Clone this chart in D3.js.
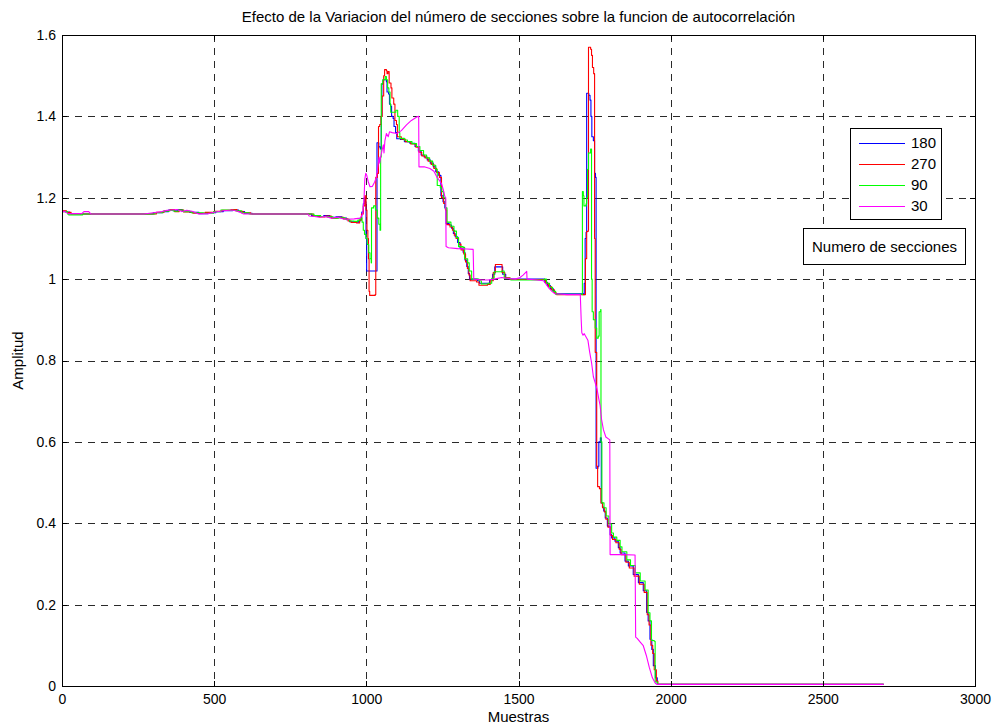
<!DOCTYPE html>
<html>
<head>
<meta charset="utf-8">
<script src="https://cdn.jsdelivr.net/npm/d3@7"></script>
<style>
  html, body { margin: 0; padding: 0; background: #ffffff; }
  svg { display: block; }
  text { font-family: "Liberation Sans", Arial, Helvetica, sans-serif; fill: #000; }
</style>
</head>
<body>
<svg id="chart" width="994" height="726"></svg>
<script>
// Títulos y etiquetas
const titulo = "Efecto de la Variacion del número de secciones sobre la funcion de autocorrelación";
const etiquetaX = "Muestras";
const etiquetaY = "Amplitud";
const tituloLeyenda = "Numero de secciones";

// Marcas de los ejes
const ticksX = [0, 500, 1000, 1500, 2000, 2500, 3000];
const ticksY = [0, 0.2, 0.4, 0.6, 0.8, 1, 1.2, 1.4, 1.6];

// Número de secciones de cada curva (orden de la leyenda)
const secciones = ["180", "270", "90", "30"];
const colores = ["#0000ff", "#ff0000", "#00ff00", "#ff00ff"];

// Autocorrelación con 180 secciones: [muestra, amplitud]
const serie180 = [
  [0,1.167],[12,1.165],[25,1.161],[60,1.160],[270,1.160],[300,1.163],[330,1.166],[350,1.170],[365,1.168],
  [380,1.171],[395,1.167],[420,1.164],[450,1.161],[480,1.163],[505,1.166],[530,1.168],[560,1.170],[580,1.166],
  [600,1.162],[625,1.160],[810,1.160],[820,1.156],[840,1.154],[860,1.156],[880,1.152],[900,1.153],[920,1.150],
  [935,1.146],[945,1.141],[965,1.140],[975,1.143],[980,1.150],[985,1.165],[990,1.185],[993,1.200],[997,1.190],
  [999,1.100],[1001,1.020],[1033,1.020],[1035,1.335],[1041,1.325],[1046,1.320],[1049,1.400],[1051,1.480],
  [1055,1.490],[1066,1.485],[1068,1.460],[1073,1.455],[1076,1.430],[1080,1.425],[1083,1.400],[1088,1.395],
  [1091,1.375],[1096,1.360],[1100,1.345],[1112,1.343],[1125,1.338],[1143,1.334],[1160,1.326],[1171,1.315],
  [1180,1.305],[1190,1.300],[1200,1.293],[1210,1.285],[1220,1.276],[1228,1.264],[1238,1.255],[1245,1.205],
  [1252,1.190],[1258,1.175],[1262,1.137],[1272,1.133],[1280,1.125],[1286,1.112],[1292,1.104],[1300,1.090],
  [1308,1.076],[1318,1.066],[1324,1.047],[1330,1.031],[1335,1.014],[1339,1.000],[1365,0.996],[1372,0.990],
  [1395,0.990],[1405,0.998],[1415,1.012],[1422,1.030],[1442,1.030],[1448,1.012],[1458,1.002],[1470,1.000],
  [1580,1.000],[1586,0.992],[1595,0.984],[1605,0.976],[1615,0.968],[1622,0.964],[1714,0.962],[1716,0.990],
  [1719,1.100],[1722,1.115],[1724,1.457],[1731,1.452],[1735,1.440],[1738,1.400],[1741,1.350],[1746,1.340],
  [1750,1.260],[1753,1.250],[1755,0.535],[1761,0.540],[1764,0.600],[1769,0.610],[1772,0.450],[1776,0.440],
  [1780,0.430],[1785,0.413],[1792,0.393],[1801,0.372],[1806,0.364],[1817,0.356],[1828,0.340],[1834,0.327],
  [1850,0.307],[1861,0.295],[1877,0.274],[1894,0.254],[1910,0.234],[1921,0.181],[1926,0.160],[1932,0.115],
  [1938,0.090],[1943,0.050],[1950,0.020],[1956,0.004],[2700,0.004]
];

// Autocorrelación con 270 secciones
const serie270 = [
  [0,1.168],[15,1.164],[30,1.160],[280,1.160],[310,1.164],[335,1.168],[355,1.171],[370,1.166],[385,1.170],
  [400,1.165],[430,1.162],[470,1.164],[500,1.167],[525,1.169],[555,1.171],[575,1.167],[595,1.163],[620,1.160],
  [812,1.160],[825,1.155],[845,1.153],[865,1.155],[885,1.150],[905,1.152],[925,1.148],[940,1.143],[950,1.139],
  [968,1.138],[978,1.145],[984,1.160],[990,1.180],[995,1.205],[999,1.170],[1002,1.120],[1005,1.100],
  [1007,1.050],[1009,0.970],[1011,0.960],[1029,0.962],[1031,1.250],[1036,1.260],[1040,1.375],[1044,1.380],
  [1048,1.400],[1052,1.450],[1057,1.500],[1060,1.515],[1066,1.512],[1068,1.505],[1071,1.510],[1075,1.482],
  [1081,1.470],[1084,1.445],[1090,1.430],[1094,1.390],[1099,1.380],[1102,1.350],[1115,1.344],[1128,1.338],
  [1146,1.332],[1163,1.324],[1173,1.312],[1182,1.303],[1193,1.298],[1203,1.290],[1213,1.282],[1222,1.272],
  [1231,1.262],[1240,1.250],[1247,1.200],[1254,1.186],[1260,1.170],[1264,1.134],[1275,1.128],[1283,1.120],
  [1289,1.108],[1295,1.100],[1303,1.086],[1311,1.072],[1320,1.062],[1326,1.042],[1332,1.026],[1337,1.010],
  [1341,0.996],[1362,0.993],[1370,0.985],[1398,0.987],[1407,0.996],[1417,1.016],[1424,1.036],[1440,1.036],
  [1446,1.016],[1455,1.003],[1472,0.999],[1583,0.999],[1589,0.990],[1598,0.982],[1608,0.974],[1618,0.966],
  [1625,0.962],[1717,0.962],[1720,1.050],[1724,1.117],[1729,1.120],[1730,1.570],[1737,1.565],[1740,1.550],
  [1743,1.520],[1747,1.505],[1750,1.100],[1752,0.820],[1757,0.540],[1760,0.490],[1766,0.485],[1771,0.450],
  [1776,0.438],[1782,0.428],[1787,0.410],[1794,0.390],[1803,0.370],[1809,0.360],[1820,0.352],[1831,0.336],
  [1837,0.323],[1853,0.304],[1864,0.290],[1880,0.270],[1897,0.250],[1913,0.230],[1923,0.175],[1929,0.150],
  [1935,0.100],[1941,0.080],[1946,0.040],[1953,0.012],[1958,0.004],[2700,0.004]
];

// Autocorrelación con 90 secciones
const serie90 = [
  [0,1.166],[18,1.160],[22,1.158],[62,1.158],[68,1.160],[275,1.160],[305,1.163],[332,1.167],[352,1.169],
  [368,1.167],[382,1.170],[398,1.166],[425,1.163],[465,1.162],[498,1.166],[522,1.170],[552,1.169],[570,1.168],
  [590,1.163],[615,1.160],[815,1.160],[828,1.156],[850,1.154],[870,1.153],[890,1.150],[910,1.151],[930,1.147],
  [945,1.143],[960,1.142],[972,1.145],[980,1.150],[986,1.140],[990,1.120],[994,1.110],[999,1.100],[1003,1.085],
  [1008,1.065],[1012,1.050],[1016,1.040],[1017,1.175],[1024,1.180],[1030,1.170],[1036,1.150],[1041,1.135],
  [1045,1.120],[1047,1.300],[1049,1.480],[1054,1.490],[1062,1.498],[1066,1.490],[1070,1.470],[1074,1.460],
  [1078,1.430],[1080,1.410],[1092,1.410],[1097,1.415],[1103,1.400],[1108,1.360],[1110,1.346],[1125,1.342],
  [1135,1.338],[1150,1.333],[1165,1.326],[1176,1.316],[1188,1.305],[1198,1.298],[1208,1.290],[1218,1.280],
  [1228,1.270],[1233,1.230],[1243,1.225],[1248,1.215],[1254,1.200],[1260,1.175],[1265,1.140],[1278,1.130],
  [1288,1.118],[1296,1.102],[1303,1.080],[1318,1.078],[1323,1.050],[1333,1.040],[1338,1.020],[1346,1.000],
  [1370,0.996],[1378,0.988],[1400,0.990],[1412,1.002],[1420,1.018],[1445,1.020],[1453,1.002],[1475,0.998],
  [1585,1.000],[1592,0.990],[1602,0.980],[1612,0.970],[1622,0.963],[1709,0.962],[1710,1.215],[1713,1.205],
  [1715,1.180],[1722,1.185],[1724,1.200],[1727,1.270],[1730,1.310],[1737,1.320],[1740,1.000],[1742,0.920],
  [1746,0.900],[1752,0.880],[1757,0.855],[1762,0.860],[1765,0.920],[1770,0.925],[1771,0.600],[1774,0.450],
  [1781,0.438],[1788,0.418],[1797,0.398],[1806,0.376],[1812,0.366],[1823,0.358],[1834,0.342],[1840,0.330],
  [1856,0.310],[1868,0.296],[1884,0.278],[1900,0.258],[1916,0.236],[1926,0.180],[1932,0.160],[1937,0.112],
  [1946,0.110],[1949,0.010],[1957,0.004],[2700,0.004]
];

// Autocorrelación con 30 secciones
const serie30 = [
  [0,1.166],[10,1.166],[20,1.161],[65,1.161],[72,1.166],[88,1.166],[95,1.160],[268,1.160],[300,1.163],
  [329,1.166],[345,1.169],[361,1.170],[378,1.171],[394,1.166],[410,1.169],[427,1.167],[449,1.160],[480,1.161],
  [504,1.165],[530,1.168],[559,1.170],[580,1.166],[597,1.160],[624,1.160],[808,1.160],[812,1.155],[830,1.154],
  [845,1.152],[865,1.154],[885,1.150],[905,1.152],[925,1.148],[940,1.147],[960,1.148],[980,1.150],[988,1.160],
  [992,1.190],[995,1.245],[998,1.260],[1001,1.256],[1006,1.240],[1012,1.227],[1020,1.228],[1027,1.238],
  [1033,1.250],[1040,1.290],[1042,1.300],[1044,1.285],[1047,1.300],[1052,1.318],[1056,1.330],[1058,1.310],
  [1061,1.340],[1066,1.358],[1072,1.350],[1076,1.362],[1085,1.360],[1100,1.358],[1115,1.365],[1132,1.379],
  [1148,1.390],[1167,1.399],[1172,1.400],[1173,1.276],[1190,1.276],[1209,1.272],[1222,1.265],[1231,1.252],
  [1247,1.235],[1253,1.219],[1258,1.203],[1261,1.200],[1262,1.080],[1270,1.077],[1300,1.075],[1330,1.074],
  [1351,1.073],[1353,1.000],[1380,0.998],[1400,0.998],[1420,1.000],[1445,1.004],[1460,1.002],[1490,1.000],
  [1505,1.004],[1515,1.010],[1527,1.019],[1528,1.000],[1560,0.998],[1582,0.996],[1590,0.988],[1600,0.978],
  [1610,0.970],[1620,0.964],[1660,0.962],[1703,0.962],[1706,0.900],[1708,0.868],[1712,0.862],[1716,0.866],
  [1722,0.858],[1728,0.850],[1734,0.820],[1740,0.795],[1746,0.760],[1752,0.745],[1758,0.730],[1764,0.705],
  [1768,0.690],[1773,0.655],[1779,0.630],[1787,0.612],[1800,0.605],[1801,0.323],[1840,0.323],[1883,0.322],
  [1885,0.120],[1890,0.117],[1900,0.108],[1910,0.099],[1920,0.075],[1930,0.045],[1940,0.020],[1950,0.006],
  [1956,0.004],[2700,0.004]
];

const series = [serie180, serie270, serie90, serie30];
// Las tres primeras se trazan como escalones; la de 30 secciones, lineal
const escalonada = [true, true, true, false];

// Geometría
const W = 994, H = 726;
const area = { left: 62, right: 975, top: 35, bottom: 686 };

const svg = d3.select("#chart");

const x = d3.scaleLinear().domain([0, 3000]).range([area.left, area.right]);
const y = d3.scaleLinear().domain([0, 1.6]).range([area.bottom, area.top]);

// Rejilla discontinua
const rejilla = svg.append("g").attr("class", "rejilla")
  .attr("stroke", "#2a2a2a").attr("stroke-width", 1).attr("stroke-dasharray", "7,6")
  .attr("shape-rendering", "crispEdges");
rejilla.selectAll("line.v").data(ticksX.slice(1, -1)).join("line").attr("class", "v")
  .attr("x1", d => Math.round(x(d)) + 0.5).attr("x2", d => Math.round(x(d)) + 0.5)
  .attr("y1", area.top).attr("y2", area.bottom);
rejilla.selectAll("line.h").data(ticksY.slice(1, -1)).join("line").attr("class", "h")
  .attr("y1", d => Math.round(y(d)) + 0.5).attr("y2", d => Math.round(y(d)) + 0.5)
  .attr("x1", area.left).attr("x2", area.right);

// Curvas
svg.append("clipPath").attr("id", "recorte").append("rect")
  .attr("x", area.left).attr("y", area.top - 2)
  .attr("width", area.right - area.left).attr("height", area.bottom - area.top + 2);

const curvas = svg.append("g").attr("clip-path", "url(#recorte)");
series.forEach((datos, i) => {
  const linea = d3.line()
    .x(d => x(d[0]))
    .y(d => y(d[1]))
    .curve(escalonada[i] ? d3.curveStepAfter : d3.curveLinear);
  curvas.append("path")
    .datum(datos)
    .attr("fill", "none")
    .attr("stroke", colores[i])
    .attr("stroke-width", 1.1)
    .attr("stroke-linejoin", "round")
    .attr("d", linea);
});

// Ejes con marcas hacia dentro
const fmt = d => String(d);
const ejeAbajo = d3.axisBottom(x).tickValues(ticksX).tickSize(-5).tickPadding(8).tickFormat(fmt);
const ejeIzq = d3.axisLeft(y).tickValues(ticksY).tickSize(-5).tickPadding(6).tickFormat(fmt);
const ejeArriba = d3.axisTop(x).tickValues(ticksX).tickSize(-5).tickFormat("");
const ejeDer = d3.axisRight(y).tickValues(ticksY).tickSize(-5).tickFormat("");

function estilo(g) {
  g.select(".domain").remove();
  g.selectAll("line").attr("stroke", "#000").attr("shape-rendering", "crispEdges");
  g.selectAll("text").attr("font-size", 14).attr("fill", "#000")
    .attr("font-family", "'Liberation Sans', Arial, sans-serif");
}
svg.append("g").attr("transform", `translate(0,${area.bottom})`).call(ejeAbajo).call(estilo);
svg.append("g").attr("transform", `translate(${area.left},0)`).call(ejeIzq).call(estilo);
svg.append("g").attr("transform", `translate(0,${area.top})`).call(ejeArriba).call(estilo);
svg.append("g").attr("transform", `translate(${area.right},0)`).call(ejeDer).call(estilo);

// Marco
svg.append("rect")
  .attr("x", area.left + 0.5).attr("y", area.top + 0.5)
  .attr("width", area.right - area.left).attr("height", area.bottom - area.top)
  .attr("fill", "none").attr("stroke", "#000").attr("stroke-width", 1)
  .attr("shape-rendering", "crispEdges");

// Título y etiquetas de ejes
svg.append("text").attr("x", (area.left + area.right) / 2).attr("y", 22)
  .attr("text-anchor", "middle").attr("font-size", 15).text(titulo);
svg.append("text").attr("x", (area.left + area.right) / 2).attr("y", 722)
  .attr("text-anchor", "middle").attr("font-size", 15).text(etiquetaX);
svg.append("text").attr("transform", `translate(23,${(area.top + area.bottom) / 2}) rotate(-90)`)
  .attr("text-anchor", "middle").attr("font-size", 15).text(etiquetaY);

// Leyenda
const leyenda = svg.append("g");
leyenda.append("rect")
  .attr("x", 850.5).attr("y", 128.5).attr("width", 91).attr("height", 91)
  .attr("fill", "#fff").attr("stroke", "#000").attr("shape-rendering", "crispEdges");
const filaY = d3.scalePoint().domain(secciones).range([143, 206]);
secciones.forEach((s, i) => {
  leyenda.append("line")
    .attr("x1", 859).attr("x2", 905)
    .attr("y1", filaY(s) + 0.5).attr("y2", filaY(s) + 0.5)
    .attr("stroke", colores[i]).attr("stroke-width", 1);
  leyenda.append("text").attr("x", 911).attr("y", filaY(s) + 5)
    .attr("font-size", 15).text(s);
});

// Cuadro con el título de la leyenda
leyenda.append("rect")
  .attr("x", 803.5).attr("y", 228.5).attr("width", 162).attr("height", 36)
  .attr("fill", "#fff").attr("stroke", "#000").attr("shape-rendering", "crispEdges");
leyenda.append("text").attr("x", 884.5).attr("y", 251.5)
  .attr("text-anchor", "middle").attr("font-size", 15).text(tituloLeyenda);
</script>
</body>
</html>
